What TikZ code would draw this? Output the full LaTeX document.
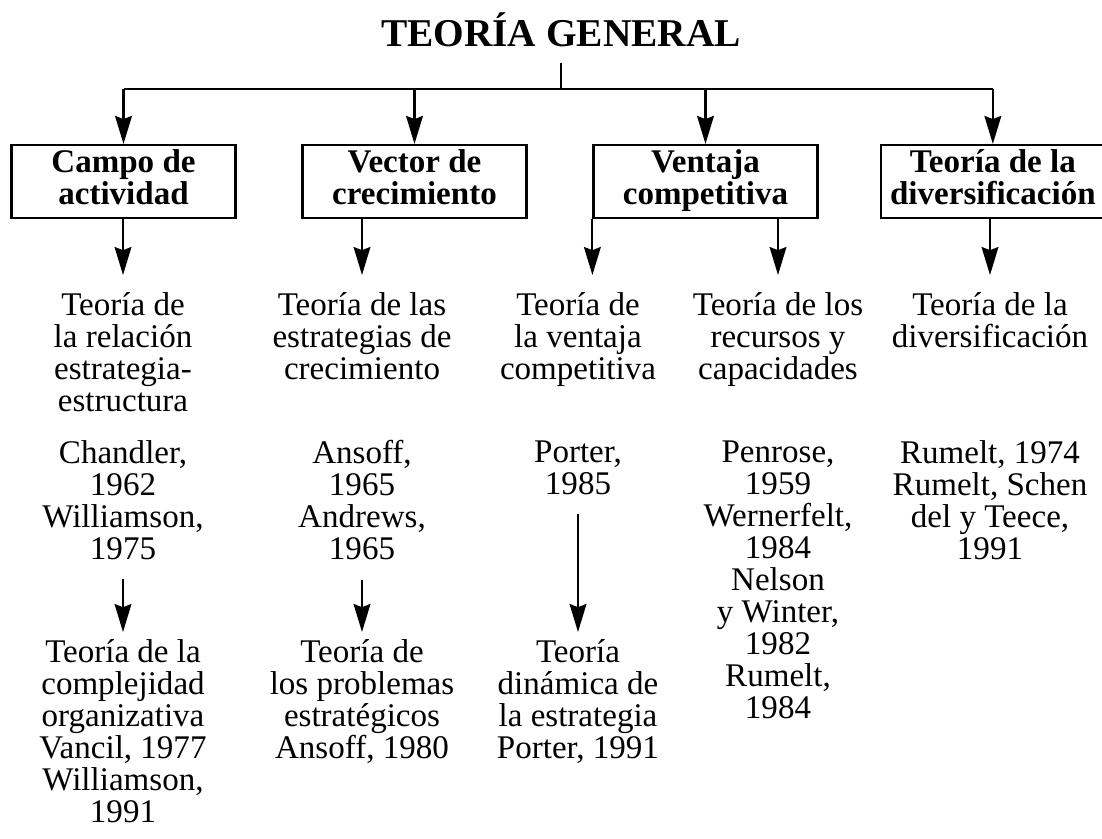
\documentclass[tikz,border=0pt]{standalone}
\usepackage{fontspec}
\setmainfont{Liberation Serif}
\usetikzlibrary{positioning,arrows.meta}

\newcommand{\fuentetitulo}{\fontsize{28}{30}\selectfont\bfseries}
\newcommand{\fuentecaja}{\fontsize{23.5}{22.8}\selectfont\bfseries}
\newcommand{\fuentetexto}{\fontsize{23.5}{22.8}\selectfont}

\begin{document}
\begin{tikzpicture}[
    x=0.025cm, y=-0.025cm,
    caja/.style={draw, line width=1.5pt, minimum width=5.6cm, minimum height=1.825cm, inner xsep=2pt, inner ysep=0pt, align=center, font=\fuentecaja, execute at begin node=\rule{0pt}{22pt}, execute at end node=\strut},
    texto/.style={anchor=north, inner xsep=0pt, inner ysep=0.18cm, align=center, font=\fuentetexto},
    flecha/.style={-{Stealth[length=0.7cm, width=0.42cm, inset=0.08cm]}, line width=1.5pt},
    linea/.style={line width=1.5pt}
]
\useasboundingbox (0,0) rectangle (1102,838);

% ========== TITULO ==========
\node[font=\fuentetitulo, anchor=base, inner xsep=0pt, inner ysep=0.4cm] (titulo) at (561,46) {TEORÍA GENERAL};
\coordinate (barra) at (562,89);

% ========== CAJAS ==========
\node[caja] (campo) at (123.5,181.5) {Campo de\\actividad};
\node[caja, right=1.62cm of campo] (vector) {Vector de\\crecimiento};
\node[caja, right=1.62cm of vector] (ventaja) {Ventaja\\competitiva};
\node[caja, right=1.53cm of ventaja] (diver) {Teoría de la\\diversificación};

% Lineas del titulo a las cajas
\draw[linea] (titulo.south) -- (titulo.south |- barra);
\draw[linea] (barra -| campo) -- (barra -| diver);
\draw[flecha] (barra -| campo) -- (campo);
\draw[flecha] (barra -| vector) -- (vector);
\draw[flecha] (barra -| ventaja) -- (ventaja);
\draw[flecha] (barra -| diver) -- (diver);

% ========== TEORIAS ==========
\node[texto] (t1) at (123,285) {Teoría de\\la relación\\estrategia-\\estructura};
\node[texto] (t2) at (362,285) {Teoría de las\\estrategias de\\crecimiento};
\node[texto] (t3) at (578,285) {Teoría de\\la ventaja\\competitiva};
\node[texto] (t4) at (778,285) {Teoría de los\\recursos y\\capacidades};
\node[texto] (t5) at (990,285) {Teoría de la\\diversificación};

% Flechas de las cajas
\draw[flecha, shorten >=0.25cm] (campo.south -| t1.north) -- (t1.north);
\draw[flecha, shorten >=0.25cm] (vector.south -| t2.north) -- (t2.north);
\draw[flecha, shorten >=0.25cm] (ventaja.south west) -- (ventaja.south west |- t3.north);
\draw[flecha, shorten >=0.25cm] (ventaja.south -| t4.north) -- (t4.north);
\draw[flecha, shorten >=0.25cm] (diver.south -| t5.north) -- (t5.north);

% ========== AUTORES ==========
\node[texto] (a1) at (123,433) {Chandler,\\1962\\Williamson,\\1975};
\node[texto] (a2) at (362,433) {Ansoff,\\1965\\Andrews,\\1965};
\node[texto] (a3) at (578,433) {Porter,\\1985};
\node[texto] (a4) at (778,433) {Penrose,\\1959\\Wernerfelt,\\1984\\Nelson\\y Winter,\\1982\\Rumelt,\\1984};
\node[texto] (a5) at (990,433) {Rumelt, 1974\\Rumelt, Schen\\del y Teece,\\1991};

% ========== TEORIAS POSTERIORES ==========
\node[texto] (b1) at (123,632) {Teoría de la\\complejidad\\organizativa\\Vancil, 1977\\Williamson,\\1991};
\node[texto] (b2) at (362,632) {Teoría de\\los problemas\\estratégicos\\Ansoff, 1980};
\node[texto] (b3) at (578,632) {Teoría\\dinámica de\\la estrategia\\Porter, 1991};

\draw[flecha, shorten <=0.3cm] (a1) -- (b1);
\draw[flecha, shorten <=0.3cm] (a2) -- (b2);
\draw[flecha, shorten <=0.3cm] (a3) -- (b3);

\end{tikzpicture}
\end{document}
